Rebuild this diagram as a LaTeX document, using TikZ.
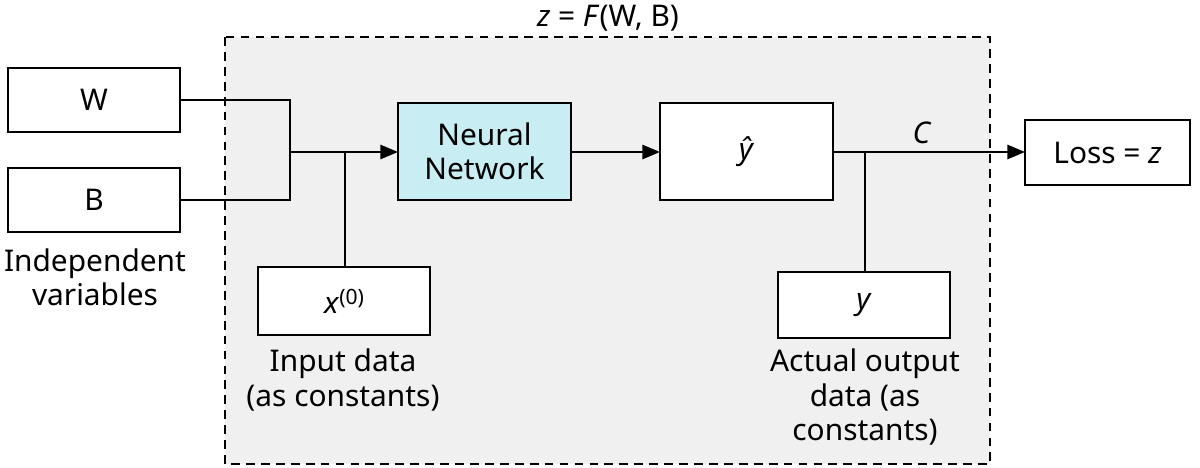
\documentclass[tikz,border=0pt]{standalone}
\usepackage{fontspec}
\setmainfont{Noto Sans}
\usetikzlibrary{arrows.meta}
\definecolor{nn}{HTML}{C8EEF4}
\definecolor{bg}{HTML}{F0F0F0}
\begin{document}
\begin{tikzpicture}[x=0.02cm,y=-0.02cm,
  box/.style={draw,line width=1.4pt,fill=white,inner sep=0pt},
  ln/.style={line width=1.4pt},
  arr/.style={ln,-{Triangle[length=10pt,width=8pt]}},
  lbl/.style={align=center,font=\fontsize{17}{19.5}\selectfont},
  every node/.style={font=\fontsize{17}{19.5}\selectfont}]
\useasboundingbox (0,0) rectangle (1200,467);
\draw[line width=1.4pt,dash pattern=on 5pt off 3.5pt,fill=bg] (225,37) rectangle (990,464);
\node[lbl] (title) at (608,18) {\textit{z} = \textit{F}(W, B)};
\draw[box] (8,68) rectangle (180,132); \node (W) at (94,100) {W};
\draw[box] (8,168) rectangle (180,232); \node (B) at (94,200) {B};
\node[lbl] (iv) at (95,277) {Independent\\variables};
\draw[box,fill=nn] (398,103) rectangle (571,200); \node[lbl] (nn) at (484.5,151.5) {Neural\\Network};
\draw[box] (258,267) rectangle (430,335); \node (x0) at (344,301) {\textit{x}\raisebox{0.55ex}{\fontsize{12}{14}\selectfont(0)}};
\node[lbl] (in) at (343,380) {Input data\\(as constants)};
\draw[box] (660,103) rectangle (833,200); \node (yh) at (746.5,151.5) {\textit{ŷ}};
\draw[box] (778,272) rectangle (950,338); \node (y) at (864,305) {\textit{y}};
\node[lbl] (ao) at (865,397) {Actual output\\data (as\\constants)};
\draw[box] (1025,120) rectangle (1190,185); \node (loss) at (1107.5,152.5) {Loss = \textit{z}};
\coordinate (j) at (290,152);
\coordinate (jx) at (345,152);
\coordinate (jy) at (865,152);
\draw[ln] (180,100) -| (j);
\draw[ln] (180,200) -| (j);
\draw[arr] (j) -- (398,152);
\draw[ln] (jx) -- (345,267);
\draw[arr] (571,152) -- (660,152);
\draw[arr] (833,152) -- (1025,152);
\node (C) at (922,133) {\textit{C}};
\draw[ln] (jy) -- (865,272);
\end{tikzpicture}
\end{document}
